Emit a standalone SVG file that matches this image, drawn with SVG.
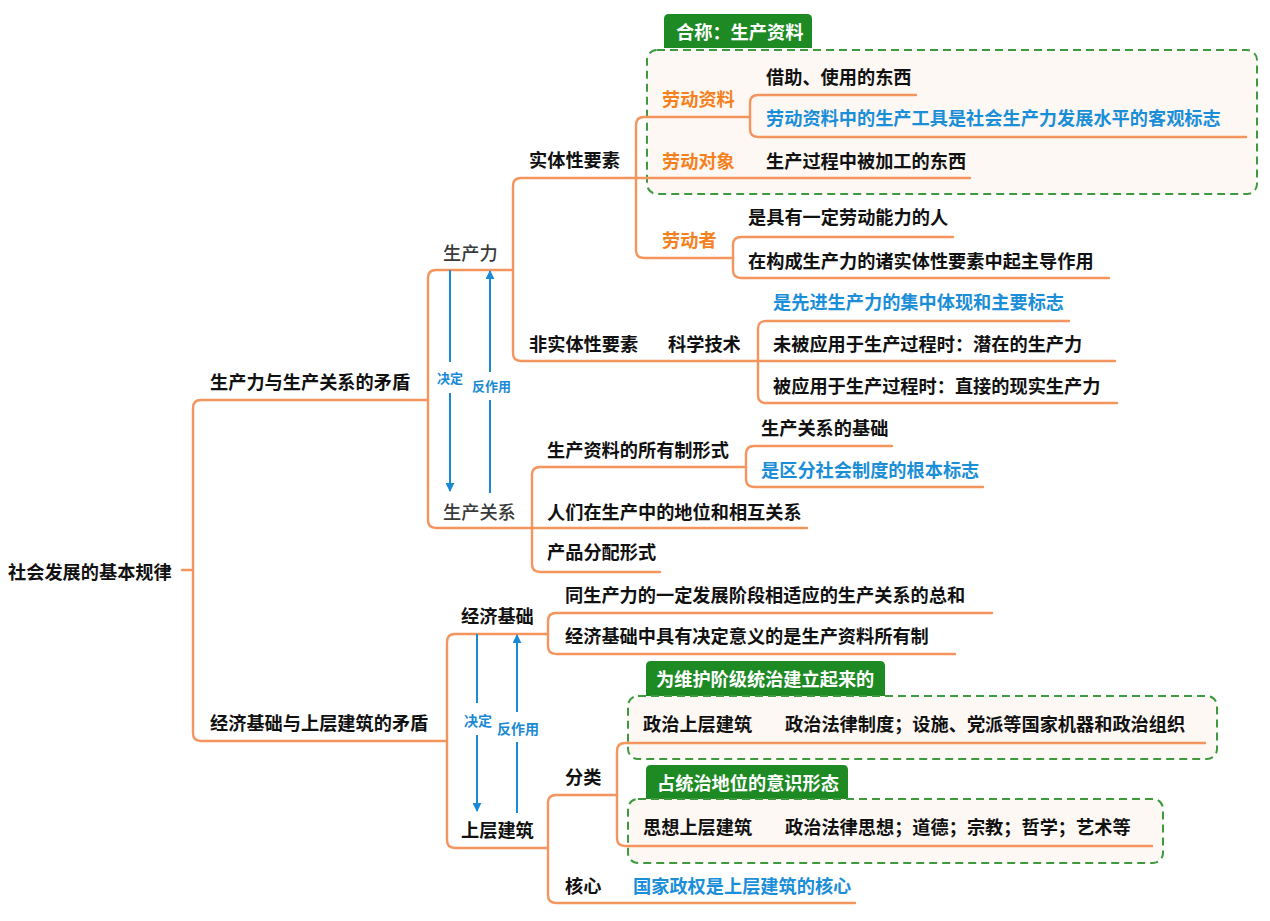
<svg xmlns="http://www.w3.org/2000/svg" width="1270" height="921" viewBox="0 0 1270 921">
<defs>
<style>
.c{fill:none;stroke:#F5955E;stroke-width:2.4;stroke-linecap:round}
.a{fill:none;stroke:#1A8AD6;stroke-width:2}
.t{font-family:"Noto Sans CJK SC","Noto Sans",sans-serif;font-size:18.2px;font-weight:bold;fill:#111}
.g{font-weight:500;fill:#3a3a3a}
.o{fill:#F5801E}
.b{fill:#1B8ED8}
.w{fill:#fff}
.l{font-family:"Noto Sans CJK SC","Noto Sans",sans-serif;font-size:13px;font-weight:bold;fill:#1A8AD6}
.box{fill:#FDF8F4;stroke:#3E9A3E;stroke-width:2;stroke-dasharray:8 5}
.tab{fill:#1E8A24}
</style>
<marker id="ah" viewBox="0 0 10 10" refX="9" refY="5" markerWidth="9" markerHeight="9" markerUnits="userSpaceOnUse" orient="auto">
<path d="M0,0 L10,5 L0,10 z" fill="#1A8AD6"/>
</marker>
</defs>
<rect width="1270" height="921" fill="#fff"/>

<g id="boxes">
<path class="tab" d="M664,48 V19 Q664,14 669,14 H807 Q812,14 812,19 V48 z"/>
<rect class="box" x="647" y="50" width="610" height="144" rx="10"/>
<path class="tab" d="M646,696 V666 Q646,661 651,661 H880 Q885,661 885,666 V696 z"/>
<rect class="box" x="628" y="696" width="589" height="63" rx="10"/>
<path class="tab" d="M646,799 V770 Q646,765 651,765 H843 Q848,765 848,770 V799 z"/>
<rect class="box" x="628" y="799" width="535" height="64" rx="10"/>
</g>

<g id="connectors">
<path class="c" d="M182,570 H193"/>
<path class="c" d="M193,570 V408 Q193,400 201,400 H428"/>
<path class="c" d="M193,570 V733 Q193,741 201,741 H447"/>
<path class="c" d="M428,400 V278 Q428,270 436,270 H513"/>
<path class="c" d="M428,400 V520 Q428,528 436,528 H807"/>
<path class="c" d="M513,270 V186 Q513,178 521,178 H970"/>
<path class="c" d="M513,270 V353 Q513,361 521,361 H1115"/>
<path class="c" d="M636,178 V125 Q636,117 644,117 H750"/>
<path class="c" d="M636,178 V250 Q636,258 644,258 H733"/>
<path class="c" d="M750,117 V103 Q750,95 758,95 H916"/>
<path class="c" d="M750,117 V129 Q750,137 758,137 H1246"/>
<path class="c" d="M733,258 V245 Q733,237 741,237 H953"/>
<path class="c" d="M733,258 V270 Q733,278 741,278 H1109"/>
<path class="c" d="M758,361 V329 Q758,321 766,321 H1069"/>
<path class="c" d="M758,361 V395 Q758,403 766,403 H1117"/>
<path class="c" d="M532,528 V475 Q532,467 540,467 H746"/>
<path class="c" d="M532,528 V564 Q532,572 540,572 H660"/>
<path class="c" d="M746,467 V454 Q746,446 754,446 H892"/>
<path class="c" d="M746,467 V479 Q746,487 754,487 H983"/>
<path class="c" d="M447,741 V642 Q447,634 455,634 H548"/>
<path class="c" d="M447,741 V840 Q447,848 455,848 H548"/>
<path class="c" d="M548,634 V621 Q548,613 556,613 H992"/>
<path class="c" d="M548,634 V646 Q548,654 556,654 H955"/>
<path class="c" d="M548,848 V803 Q548,795 556,795 H617"/>
<path class="c" d="M548,848 V895 Q548,903 556,903 H855"/>
<path class="c" d="M617,795 V751 Q617,743 625,743 H1205"/>
<path class="c" d="M617,795 V838 Q617,846 625,846 H1152"/>
<path class="a" d="M450,270 V362"/>
<path class="a" d="M450,393 V491" marker-end="url(#ah)"/>
<path class="a" d="M490,493 V400"/>
<path class="a" d="M490,372 V271" marker-end="url(#ah)"/>
<path class="a" d="M477,634 V703"/>
<path class="a" d="M477,735 V811" marker-end="url(#ah)"/>
<path class="a" d="M517,813 V742"/>
<path class="a" d="M517,712 V635" marker-end="url(#ah)"/>
<text class="l" x="437" y="383">决定</text>
<text class="l" x="472" y="391">反作用</text>
<text class="l" x="464" y="726" style="font-size:14px">决定</text>
<text class="l" x="497" y="734" style="font-size:14px">反作用</text>
</g>

<g id="root"><text class="t" x="8" y="579">社会发展的基本规律</text></g>
<g id="n-sclsc"><text class="t" x="210" y="389">生产力与生产关系的矛盾</text></g>
<g id="n-jjjc-sc"><text class="t" x="210" y="730">经济基础与上层建筑的矛盾</text></g>
<g id="n-scl"><text class="t g" x="443" y="260">生产力</text></g>
<g id="n-scgx"><text class="t g" x="443" y="519">生产关系</text></g>
<g id="n-stx"><text class="t" x="529" y="167">实体性要素</text></g>
<g id="n-fstx"><text class="t" x="529" y="351">非实体性要素</text></g>
<g id="n-kxjs"><text class="t" x="668" y="351">科学技术</text></g>
<g id="n-ldzl"><text class="t o" x="662" y="106">劳动资料</text></g>
<g id="n-lddx"><text class="t o" x="662" y="168">劳动对象</text></g>
<g id="n-ldz"><text class="t o" x="662" y="247">劳动者</text></g>
<g id="n-jz"><text class="t" x="766" y="84">借助、使用的东西</text></g>
<g id="n-gj"><text class="t b" x="766" y="125">劳动资料中的生产工具是社会生产力发展水平的客观标志</text></g>
<g id="n-jg"><text class="t" x="766" y="168">生产过程中被加工的东西</text></g>
<g id="n-ren"><text class="t" x="748" y="224">是具有一定劳动能力的人</text></g>
<g id="n-zd"><text class="t" x="748" y="268">在构成生产力的诸实体性要素中起主导作用</text></g>
<g id="n-hc"><text class="t w" x="676" y="39">合称：生产资料</text></g>
<g id="n-xj"><text class="t b" x="773" y="309">是先进生产力的集中体现和主要标志</text></g>
<g id="n-qz"><text class="t" x="773" y="351">未被应用于生产过程时：潜在的生产力</text></g>
<g id="n-xs"><text class="t" x="773" y="393">被应用于生产过程时：直接的现实生产力</text></g>
<g id="n-syz"><text class="t" x="547" y="457">生产资料的所有制形式</text></g>
<g id="n-jc"><text class="t" x="761" y="435">生产关系的基础</text></g>
<g id="n-bz"><text class="t b" x="761" y="477">是区分社会制度的根本标志</text></g>
<g id="n-dw"><text class="t" x="547" y="519">人们在生产中的地位和相互关系</text></g>
<g id="n-fp"><text class="t" x="547" y="559">产品分配形式</text></g>
<g id="n-jjjc"><text class="t" x="461" y="623">经济基础</text></g>
<g id="n-scjz"><text class="t" x="461" y="837">上层建筑</text></g>
<g id="n-zh"><text class="t" x="565" y="602">同生产力的一定发展阶段相适应的生产关系的总和</text></g>
<g id="n-syzz"><text class="t" x="565" y="643">经济基础中具有决定意义的是生产资料所有制</text></g>
<g id="n-wh"><text class="t w" x="656" y="686">为维护阶级统治建立起来的</text></g>
<g id="n-zzsc"><text class="t" x="643" y="731">政治上层建筑</text><text class="t" x="785" y="731">政治法律制度；设施、党派等国家机器和政治组织</text></g>
<g id="n-fl"><text class="t" x="565" y="784">分类</text></g>
<g id="n-ys"><text class="t w" x="657" y="790">占统治地位的意识形态</text></g>
<g id="n-sxsc"><text class="t" x="643" y="834">思想上层建筑</text><text class="t" x="785" y="834">政治法律思想；道德；宗教；哲学；艺术等</text></g>
<g id="n-hx"><text class="t" x="565" y="893">核心</text><text class="t b" x="633" y="893">国家政权是上层建筑的核心</text></g>
</svg>
